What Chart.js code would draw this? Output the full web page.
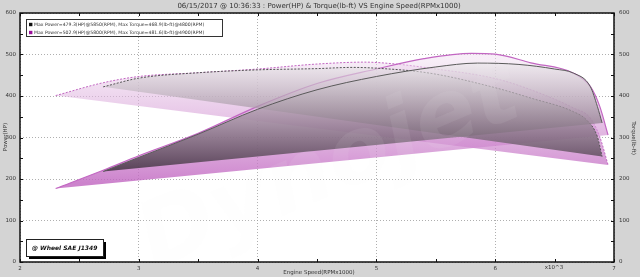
<!DOCTYPE html>
<html><head><meta charset="utf-8">
<script src="https://cdn.jsdelivr.net/npm/chart.js@4/dist/chart.umd.min.js"></script>
<style>html,body{margin:0;padding:0;background:#d4d4d4;}#wrap{width:640px;height:277px;}</style>
</head><body><div id="wrap"><canvas id="c" width="640" height="277"></canvas></div>
<script>
// ---- data ----
const titleText = "06/15/2017 @ 10:36:33 : Power(HP) & Torque(lb-ft) VS Engine Speed(RPMx1000)";
const legendLines = [
  "Max Power=479.3(HP)@5850(RPM), Max Torque=468.9(lb-ft)@4800(RPM)",
  "Max Power=502.9(HP)@5800(RPM), Max Torque=481.6(lb-ft)@4900(RPM)"
];
const xTicks = [2, 3, 4, 5, 6, 7];
const yTicks = [0, 100, 200, 300, 400, 500, 600];

const rpmPowerA  = [2.70, 3.0, 3.5, 4.0, 4.5, 5.0, 5.5, 5.85, 6.2, 6.5, 6.66, 6.8, 6.86, 6.9];
const powerA     = [218, 252, 308, 368, 415, 447, 470, 479.3, 476, 465, 455, 423, 375, 335];
const rpmTorqueA = [2.70, 3.0, 3.5, 4.0, 4.5, 4.8, 5.0, 5.45, 6.0, 6.3, 6.66, 6.77, 6.86, 6.9];
const torqueA    = [422, 443, 456, 463, 466, 468.9, 467, 455, 420, 395, 362, 342, 302, 254];

const rpmPowerB  = [2.30, 2.7, 3.0, 3.5, 4.0, 4.5, 5.0, 5.4, 5.8, 6.0, 6.3, 6.66, 6.8, 6.88, 6.95];
const powerB     = [177, 221, 256, 310, 375, 430, 465, 490, 502.9, 501, 480, 455, 423, 375, 306];
const rpmTorqueB = [2.30, 2.7, 3.0, 3.5, 4.0, 4.5, 4.9, 5.2, 5.45, 6.0, 6.3, 6.66, 6.8, 6.88, 6.95];
const torqueB    = [401, 432, 447, 456, 465, 477, 481.6, 476, 467, 442, 415, 371, 347, 302, 234];

const pts = (xs, ys) => xs.map((x, i) => ({x: x, y: ys[i]}));

function grad(kind) {
  return (ctx) => {
    const chart = ctx.chart;
    const ca = chart.chartArea;
    if (!ca) return 'transparent';
    const ys = chart.scales.y;
    const g = chart.ctx.createLinearGradient(0, ys.getPixelForValue(490), 0, ys.getPixelForValue(190));
    if (kind === 'dark') {
      g.addColorStop(0, 'rgba(240,238,240,0.6)');
      g.addColorStop(0.5, 'rgba(150,134,148,0.75)');
      g.addColorStop(1, 'rgba(55,38,55,0.93)');
    } else {
      g.addColorStop(0, 'rgba(240,222,240,0.5)');
      g.addColorStop(1, 'rgba(192,100,192,0.8)');
    }
    return g;
  };
}

const FONT = "DejaVu Sans";

const decor = {
  id: 'decor',
  beforeDraw(chart) {
    const {ctx, chartArea: a} = chart;
    ctx.save();
    ctx.fillStyle = '#d4d4d4';
    ctx.fillRect(0, 0, chart.width, chart.height);
    ctx.fillStyle = '#ffffff';
    ctx.fillRect(a.left, a.top, a.right - a.left, a.bottom - a.top);
    ctx.restore();
  },
  afterDatasetsDraw(chart) {
    const {ctx, chartArea: a} = chart;
    ctx.save();
    ctx.beginPath(); ctx.rect(a.left, a.top, a.right - a.left, a.bottom - a.top); ctx.clip();
    ctx.translate(330, 170);
    ctx.rotate(-0.4);
    ctx.font = "italic bold 92px " + FONT;
    ctx.fillStyle = 'rgba(240,240,240,0.08)';
    ctx.textAlign = 'center'; ctx.textBaseline = 'middle';
    ctx.fillText('Dynojet', 0, 0);
    ctx.restore();
  },
  afterDraw(chart) {
    const {ctx, chartArea: a, scales} = chart;
    const xs = scales.x, ys = scales.y;
    ctx.save();
    ctx.strokeStyle = '#111'; ctx.lineWidth = 1.5;
    ctx.strokeRect(a.left, a.top, a.right - a.left, a.bottom - a.top);
    ctx.lineWidth = 1;
    ctx.beginPath();
    for (let v = 2; v <= 7.0001; v += 0.5) {
      const px = Math.round(xs.getPixelForValue(v)) + 0.5;
      ctx.moveTo(px, a.bottom); ctx.lineTo(px, a.bottom - 3);
      ctx.moveTo(px, a.top); ctx.lineTo(px, a.top + 3);
    }
    for (let v = 0; v <= 600; v += 50) {
      const py = Math.round(ys.getPixelForValue(v)) + 0.5;
      ctx.moveTo(a.left, py); ctx.lineTo(a.left + 3, py);
      ctx.moveTo(a.right, py); ctx.lineTo(a.right - 3, py);
    }
    ctx.stroke();
    ctx.fillStyle = '#333';
    ctx.font = "7px " + FONT;
    ctx.textAlign = 'center'; ctx.textBaseline = 'middle';
    ctx.fillText(titleText, 319, 6);
    ctx.font = "5.5px " + FONT;
    ctx.fillText("Engine Speed(RPMx1000)", 319, 272.5);
    ctx.fillText("x10^3", 554, 268);
    ctx.save();
    ctx.translate(6, 137); ctx.rotate(-Math.PI / 2);
    ctx.fillText("Power(HP)", 0, 0);
    ctx.restore();
    ctx.save();
    ctx.translate(633, 138); ctx.rotate(Math.PI / 2);
    ctx.fillText("Torque(lb-ft)", 0, 0);
    ctx.restore();
    ctx.fillStyle = '#fff';
    ctx.fillRect(26.5, 19.5, 196, 17);
    ctx.strokeStyle = '#333'; ctx.lineWidth = 1;
    ctx.strokeRect(26.5, 19.5, 196, 17);
    const sq = ['#111111', '#9a109a'];
    ctx.font = "4.6px " + FONT;
    ctx.textAlign = 'left';
    legendLines.forEach((t, i) => {
      const y = 24.5 + i * 8;
      ctx.fillStyle = sq[i];
      ctx.fillRect(29, y - 1.7, 3.4, 3.4);
      ctx.fillStyle = '#333';
      ctx.fillText(t, 34, y + 0.3);
    });
    ctx.fillStyle = '#000';
    ctx.fillRect(29, 242, 77, 17);
    ctx.fillStyle = '#fff';
    ctx.fillRect(26.5, 239.5, 77, 17);
    ctx.strokeStyle = '#222';
    ctx.strokeRect(26.5, 239.5, 77, 17);
    ctx.fillStyle = '#111';
    ctx.font = "italic bold 6px " + FONT;
    ctx.fillText("@ Wheel SAE J1349", 32, 248);
    ctx.restore();
  }
};

const common = {pointRadius: 0, pointHoverRadius: 0, cubicInterpolationMode: 'monotone', fill: 'shape'};

new Chart(document.getElementById('c'), {
  type: 'line',
  data: {
    datasets: [
      Object.assign({label: 'Torque B', data: pts(rpmTorqueB, torqueB), borderColor: '#c266c2', borderWidth: 1, borderDash: [2, 1.5], backgroundColor: grad('purple'), yAxisID: 'y', order: 4}, common),
      Object.assign({label: 'Power B', data: pts(rpmPowerB, powerB), borderColor: '#c266c2', borderWidth: 1.2, backgroundColor: grad('purple'), yAxisID: 'y', order: 3}, common),
      Object.assign({label: 'Torque A', data: pts(rpmTorqueA, torqueA), borderColor: '#555', borderWidth: 1, borderDash: [2, 1.5], backgroundColor: grad('dark'), yAxisID: 'y', order: 2}, common),
      Object.assign({label: 'Power A', data: pts(rpmPowerA, powerA), borderColor: '#5a5a5a', borderWidth: 1, backgroundColor: grad('dark'), yAxisID: 'y', order: 1}, common)
    ]
  },
  options: {
    responsive: false,
    animation: false,
    events: [],
    layout: {padding: {top: 13, left: 0, right: 0, bottom: 0}},
    plugins: {legend: {display: false}, tooltip: {enabled: false}, title: {display: false}},
    scales: {
      x: {
        type: 'linear', min: 2, max: 7,
        afterBuildTicks: (s) => { s.ticks = xTicks.map(v => ({value: v})); },
        afterFit: (s) => { s.height = 15; },
        grid: {color: '#9a9a9a', drawTicks: false, lineWidth: 0.8},
        border: {display: false, dash: [1, 2]},
        ticks: {font: {family: FONT, size: 5.5}, color: '#333', padding: 3, maxRotation: 0, autoSkip: false}
      },
      y: {
        position: 'left', min: 0, max: 600,
        afterBuildTicks: (s) => { s.ticks = yTicks.map(v => ({value: v})); },
        afterFit: (s) => { s.width = 20; },
        grid: {color: '#9a9a9a', drawTicks: false, lineWidth: 0.8},
        border: {display: false, dash: [1, 2]},
        ticks: {font: {family: FONT, size: 5.5}, color: '#333', padding: 4}
      },
      y2: {
        position: 'right', min: 0, max: 600,
        afterBuildTicks: (s) => { s.ticks = yTicks.map(v => ({value: v})); },
        afterFit: (s) => { s.width = 26; },
        grid: {display: false, drawTicks: false},
        border: {display: false},
        ticks: {font: {family: FONT, size: 5.5}, color: '#333', padding: 5}
      }
    }
  },
  plugins: [decor]
});
</script></body></html>
